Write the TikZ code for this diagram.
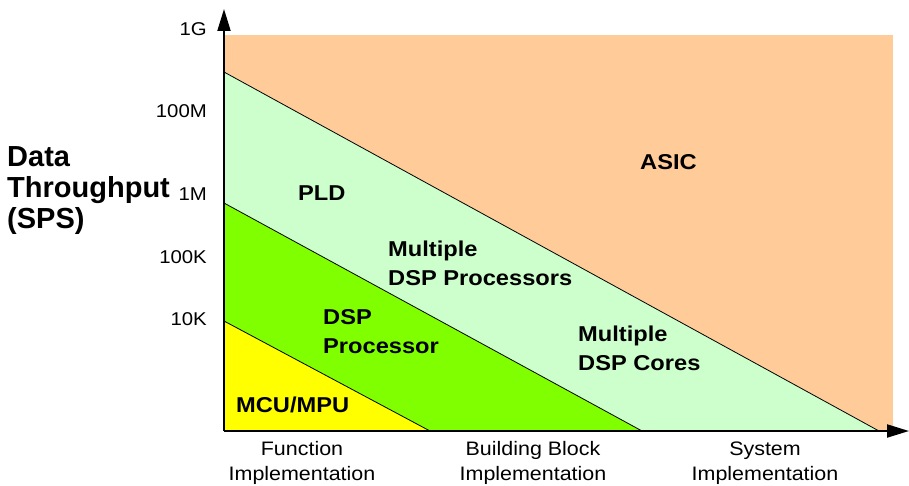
\documentclass[tikz,border=0pt]{standalone}
\usepackage{fontspec}
\setmainfont{Liberation Sans}
\newfontfamily\widefont{Liberation Sans}[FakeStretch=1.1]
\usetikzlibrary{arrows.meta}
\definecolor{asic}{HTML}{FFCC99}
\definecolor{pld}{HTML}{CCFFCC}
\definecolor{dsp}{HTML}{80FF00}
\definecolor{mcu}{HTML}{FFFF00}
\begin{document}
\begin{tikzpicture}[x=1pt,y=-1pt,
  tick/.style={font=\widefont\fontsize{18.5}{20}\selectfont, anchor=east, inner sep=0pt},
  region/.style={font=\widefont\bfseries\fontsize{21.5}{29}\selectfont, align=left, anchor=west, inner sep=0pt},
  xlab/.style={font=\widefont\fontsize{19.5}{25}\selectfont, align=center, inner sep=0pt},
  axis/.style={line width=2pt, -{Triangle[length=22pt,width=13pt]}}]
\useasboundingbox (0,0) rectangle (909,486);
% regions
\fill[asic] (224,35) rectangle (893,431);
\fill[pld] (224,72) -- (879,431) -- (224,431) -- cycle;
\fill[dsp] (224,203) -- (642,431) -- (224,431) -- cycle;
\fill[mcu] (224,321) -- (430,431) -- (224,431) -- cycle;
\coordinate (a1) at (224,72); \coordinate (a2) at (879,431);
\coordinate (b1) at (224,203); \coordinate (b2) at (642,431);
\coordinate (c1) at (224,321); \coordinate (c2) at (430,431);
\draw[line width=0.8pt] (a1) -- (a2);
\draw[line width=0.8pt] (b1) -- (b2);
\draw[line width=0.8pt] (c1) -- (c2);
% axes
\coordinate (o) at (224,431);
\coordinate (ytop) at (224,9);
\coordinate (xend) at (909,431);
\draw[axis] (o) -- (ytop);
\draw[axis] (o) -- (xend);
% ticks
\node[tick] (t1) at (207,29) {1G};
\node[tick] (t2) at (207,111) {100M};
\node[tick] (t3) at (207,194) {1M};
\node[tick] (t4) at (207,257) {100K};
\node[tick] (t5) at (207,319) {10K};
% y label
\node[font=\bfseries\fontsize{29}{31}\selectfont, align=left, anchor=base west, inner sep=0pt] (ylab) at (7,229) {Data\\Throughput\\(SPS)};
% regions labels
\node[region] (asicl) at (640,162) {ASIC};
\node[region] (pldl) at (298,193) {PLD};
\node[region] (mdp) at (388,263) {Multiple\\DSP Processors};
\node[region] (mdc) at (578,348.5) {Multiple\\DSP Cores};
\node[region] (dspl) at (323,332) {DSP\\Processor};
\node[region] (mcul) at (236,405) {MCU/MPU};
% x labels
\node[xlab] (x1) at (302,463) {Function\\Implementation};
\node[xlab] (x2) at (533,463) {Building Block\\Implementation};
\node[xlab] (x3) at (765,463) {System\\Implementation};
\end{tikzpicture}
\end{document}
